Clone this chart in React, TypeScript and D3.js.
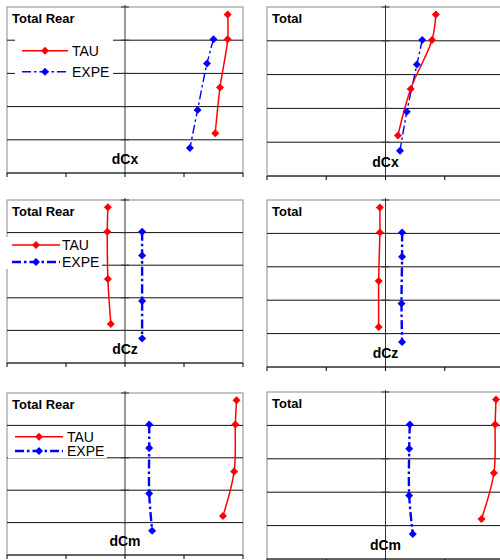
import React from "react"
import * as d3 from "d3"

// stations along the span (fraction of the height), same for every panel
const tauY = [0.955, 0.805, 0.515, 0.24]
const expeY = [0.805, 0.66, 0.38, 0.15]

const titles = ["Total Rear", "Total", "Total Rear", "Total", "Total Rear", "Total"]
const labels = ["dCx", "dCx", "dCz", "dCz", "dCm", "dCm"]
const seriesNames = ["TAU", "EXPE"]

// x values per panel (arbitrary units, axis from -2 to 2)
const tauX = [
  [1.74, 1.74, 1.61, 1.53],
  [0.85, 0.785, 0.425, 0.21],
  [-0.29, -0.3, -0.29, -0.24],
  [-0.095, -0.095, -0.115, -0.115],
  [1.89, 1.87, 1.85, 1.66],
  [1.865, 1.85, 1.83, 1.62],
]
const expeX = [
  [1.5, 1.39, 1.23, 1.1],
  [0.62, 0.53, 0.36, 0.245],
  [0.29, 0.29, 0.29, 0.29],
  [0.28, 0.28, 0.27, 0.28],
  [0.41, 0.41, 0.41, 0.46],
  [0.41, 0.4, 0.4, 0.46],
]

const xTicks = [-2, -1, 0, 1, 2]
const yTicks = [0, 0.2, 0.4, 0.6, 0.8, 1]

// plot boxes
const boxes = [
  { x0: 7, x1: 243, y0: 7, y1: 173 },
  { x0: 267, x1: 504, y0: 7, y1: 176 },
  { x0: 7, x1: 243, y0: 200, y1: 363 },
  { x0: 267, x1: 504, y0: 200, y1: 367 },
  { x0: 7, x1: 243, y0: 393, y1: 555 },
  { x0: 267, x1: 504, y0: 392, y1: 559 },
]

// legends only on the left column
const legends: any = {
  0: { bx: 15, by: 33, bw: 98, bh: 47, lx0: 22, lx1: 68, tx: 72, y1: 50.7, y2: 71.7 },
  2: { bx: 1, by: 237, bw: 101, bh: 32, lx0: 12, lx1: 60, tx: 62, y1: 245, y2: 262 },
  4: { bx: 8, by: 428, bw: 99, bh: 30, lx0: 15, lx1: 63, tx: 67, y1: 436.7, y2: 451 },
}

const font = "'Liberation Sans', Arial, sans-serif"
const RED = "#ff0000"
const BLUE = "#0000ff"

function Diamond({ x, y, c }: { x: number; y: number; c: string }) {
  const r = 4
  return <path d={`M${x},${y - r}L${x + r},${y}L${x},${y + r}L${x - r},${y}Z`} fill={c} />
}

function Panel({ i }: { i: number }) {
  const b = boxes[i]
  const x = d3.scaleLinear().domain([-2, 2]).range([b.x0, b.x1])
  const y = d3.scaleLinear().domain([0, 1]).range([b.y1, b.y0])
  const line = d3
    .line<[number, number]>()
    .x((d) => x(d[0]))
    .y((d) => y(d[1]))
    .curve(d3.curveCatmullRom.alpha(0.5))
  const tau = tauX[i].map((v, k) => [v, tauY[k]] as [number, number])
  const expe = expeX[i].map((v, k) => [v, expeY[k]] as [number, number])
  const blueW = i < 2 ? 1.4 : 2.4
  const lg = legends[i]
  return (
    <g>
      <rect x={b.x0} y={b.y0} width={b.x1 - b.x0} height={b.y1 - b.y0} fill="#fff" stroke="#8a8a8a" />
      {yTicks.slice(1, -1).map((t) => (
        <line key={t} x1={b.x0} x2={b.x1} y1={y(t)} y2={y(t)} stroke="#111" />
      ))}
      {lg && <rect x={lg.bx} y={lg.by} width={lg.bw} height={lg.bh} fill="#fff" />}
      {/* value axis at zero */}
      <line x1={x(0)} x2={x(0)} y1={b.y0 - 2} y2={b.y1} stroke="#333" />
      {yTicks.slice(1).map((t) => (
        <line key={t} x1={x(0) - 4} x2={x(0) + 4} y1={y(t)} y2={y(t)} stroke="#333" />
      ))}
      {/* bottom axis */}
      <line x1={b.x0} x2={b.x1} y1={b.y1} y2={b.y1} stroke="#000" />
      {xTicks.map((t) => (
        <line key={t} x1={x(t)} x2={x(t)} y1={b.y1} y2={b.y1 + 4} stroke="#000" />
      ))}
      <path d={line(expe) || ""} fill="none" stroke={BLUE} strokeWidth={blueW} strokeDasharray="9,3,2.5,3" />
      <path d={line(tau) || ""} fill="none" stroke={RED} strokeWidth={1.5} />
      {expe.map((d, k) => (
        <Diamond key={"e" + k} x={x(d[0])} y={y(d[1])} c={BLUE} />
      ))}
      {tau.map((d, k) => (
        <Diamond key={"t" + k} x={x(d[0])} y={y(d[1])} c={RED} />
      ))}
      <text x={b.x0 + 5} y={b.y0 + 16} fontFamily={font} fontWeight="bold" fontSize={13}>
        {titles[i]}
      </text>
      <text x={x(0)} y={b.y1 - 9} fontFamily={font} fontWeight="bold" fontSize={14} textAnchor="middle">
        {labels[i]}
      </text>
      {lg && (
        <g fontFamily={font} fontSize={14}>
          <line x1={lg.lx0} x2={lg.lx1} y1={lg.y1} y2={lg.y1} stroke={RED} strokeWidth={1.5} />
          <Diamond x={(lg.lx0 + lg.lx1) / 2} y={lg.y1} c={RED} />
          <text x={lg.tx} y={lg.y1 + 5}>{seriesNames[0]}</text>
          <line x1={lg.lx0} x2={lg.lx1} y1={lg.y2} y2={lg.y2} stroke={BLUE} strokeWidth={blueW} strokeDasharray="9,3,2.5,3" />
          <Diamond x={(lg.lx0 + lg.lx1) / 2} y={lg.y2} c={BLUE} />
          <text x={lg.tx} y={lg.y2 + 5}>{seriesNames[1]}</text>
        </g>
      )}
    </g>
  )
}

export default function App() {
  return (
    <svg width={500} height={560} style={{ position: "absolute", left: 0, top: 0, background: "#fff" }}>
      {boxes.map((_, i) => (
        <Panel key={i} i={i} />
      ))}
    </svg>
  )
}
